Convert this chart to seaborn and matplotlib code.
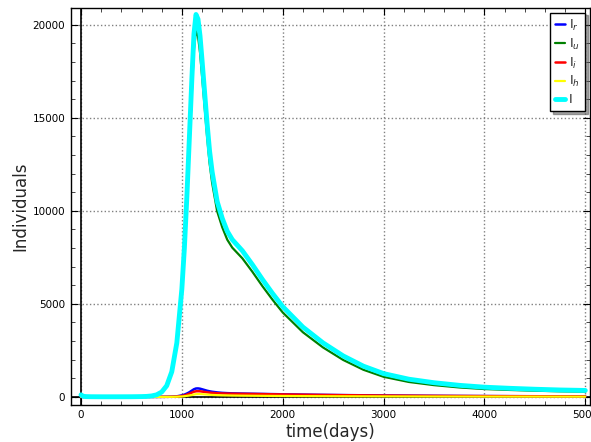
import matplotlib
matplotlib.use("Agg")
import matplotlib.pyplot as plt
import pandas as pd
import seaborn as sns
from matplotlib.ticker import MultipleLocator

# time points (days)
t = [0, 10, 25, 50, 100, 200, 300, 400, 500, 600, 650, 700, 750, 800, 850, 900,
     950, 1000, 1025, 1050, 1075, 1100, 1120, 1140, 1160, 1180, 1200, 1225, 1250,
     1275, 1300, 1350, 1400, 1450, 1500, 1600, 1700, 1800, 1900, 2000, 2200, 2400,
     2600, 2800, 3000, 3250, 3500, 3750, 4000, 4250, 4500, 4750, 5000]

# individuals per compartment
I_r = [0, 0, 0, 0, 0, 0, 0, 0, 0, 0, 0, 0, 0, 2, 5, 12,
       30, 80, 120, 180, 250, 340, 410, 450, 455, 440, 410, 370, 330,
       300, 275, 240, 215, 200, 190, 178, 168, 158, 148, 138, 122, 108,
       96, 85, 75, 65, 56, 49, 43, 38, 34, 30, 27]
I_u = [110, 70, 30, 15, 8, 5, 5, 6, 8, 15, 25, 50, 110, 257, 591, 1328,
       2844, 5650, 7770, 10445, 13505, 16530, 18690, 19655, 19390, 18510, 17260, 15630, 14000,
       12557, 11505, 9973, 9120, 8448, 8018, 7445, 6717, 5940, 5214, 4536, 3473, 2655,
       1983, 1457, 1079, 801, 631, 507, 421, 372, 331, 299, 281]
I_i = [0, 0, 0, 0, 0, 0, 0, 0, 0, 0, 0, 0, 0, 1, 3, 7,
       18, 50, 75, 120, 170, 230, 275, 300, 305, 300, 285, 265, 245,
       228, 215, 195, 182, 175, 170, 162, 155, 147, 138, 130, 115, 102,
       90, 80, 71, 62, 54, 47, 41, 36, 32, 29, 26]
I_h = [0, 0, 0, 0, 0, 0, 0, 0, 0, 0, 0, 0, 0, 0, 1, 3,
       8, 20, 35, 55, 75, 100, 125, 145, 150, 150, 145, 135, 125,
       115, 105, 92, 83, 77, 72, 65, 60, 55, 50, 46, 40, 35,
       31, 28, 25, 22, 19, 17, 15, 14, 13, 12, 11]
I_tot = [110, 70, 30, 15, 8, 5, 5, 6, 8, 15, 25, 50, 110, 260, 600, 1350,
         2900, 5800, 8000, 10800, 14000, 17200, 19500, 20550, 20300, 19400, 18100, 16400, 14700,
         13200, 12100, 10500, 9600, 8900, 8450, 7850, 7100, 6300, 5550, 4850, 3750, 2900,
         2200, 1650, 1250, 950, 760, 620, 520, 460, 410, 370, 345]

series = [
    (I_r, r"I$_r$", "blue", 1.8),
    (I_u, r"I$_u$", "green", 1.6),
    (I_i, r"I$_i$", "red", 1.8),
    (I_h, r"I$_h$", "yellow", 1.6),
    (I_tot, "I", "cyan", 3.5),
]

sns.set_style("ticks", {
    "xtick.direction": "in", "ytick.direction": "in",
    "xtick.top": True, "ytick.right": True,
    "axes.edgecolor": "black",
})
plt.rcParams["font.family"] = ["DejaVu Sans"]

fig = plt.figure(figsize=(5.91, 4.42), dpi=100)
ax = fig.add_axes([0.120, 0.084, 0.878, 0.898])

ax.axhline(0, color="black", lw=1.2, zorder=1)
ax.axvline(0, color="black", lw=1.2, zorder=1)

for vals, lab, col, lw in series:
    df = pd.DataFrame({"t": t, "v": vals})
    sns.lineplot(data=df, x="t", y="v", ax=ax, color=col, lw=lw, label=lab, zorder=3)

ax.set_xlim(-100, 5045)
ax.set_ylim(-430, 20900)
ax.xaxis.set_major_locator(MultipleLocator(1000))
ax.xaxis.set_minor_locator(MultipleLocator(200))
ax.yaxis.set_major_locator(MultipleLocator(5000))
ax.yaxis.set_minor_locator(MultipleLocator(1000))
ax.tick_params(which="major", length=5, width=0.8, labelsize=7.5, colors="black", pad=4)
ax.tick_params(which="minor", length=3, width=0.6, direction="in", top=True, right=True)
ax.grid(True, which="major", linestyle=":", color="gray", lw=1)
for s in ax.spines.values():
    s.set_linewidth(1.0)

ax.set_xlabel("time(days)", fontsize=12, labelpad=2)
ax.set_ylabel("Individuals", fontsize=12, labelpad=2)

leg = ax.legend(loc="upper right", bbox_to_anchor=(0.991, 0.988), fancybox=False,
                shadow=True, fontsize=9, handlelength=0.75, handletextpad=0.35,
                borderpad=0.4, labelspacing=0.3, borderaxespad=0, framealpha=1)
leg.get_frame().set_edgecolor("black")

fig.savefig("out.png", dpi=100)
